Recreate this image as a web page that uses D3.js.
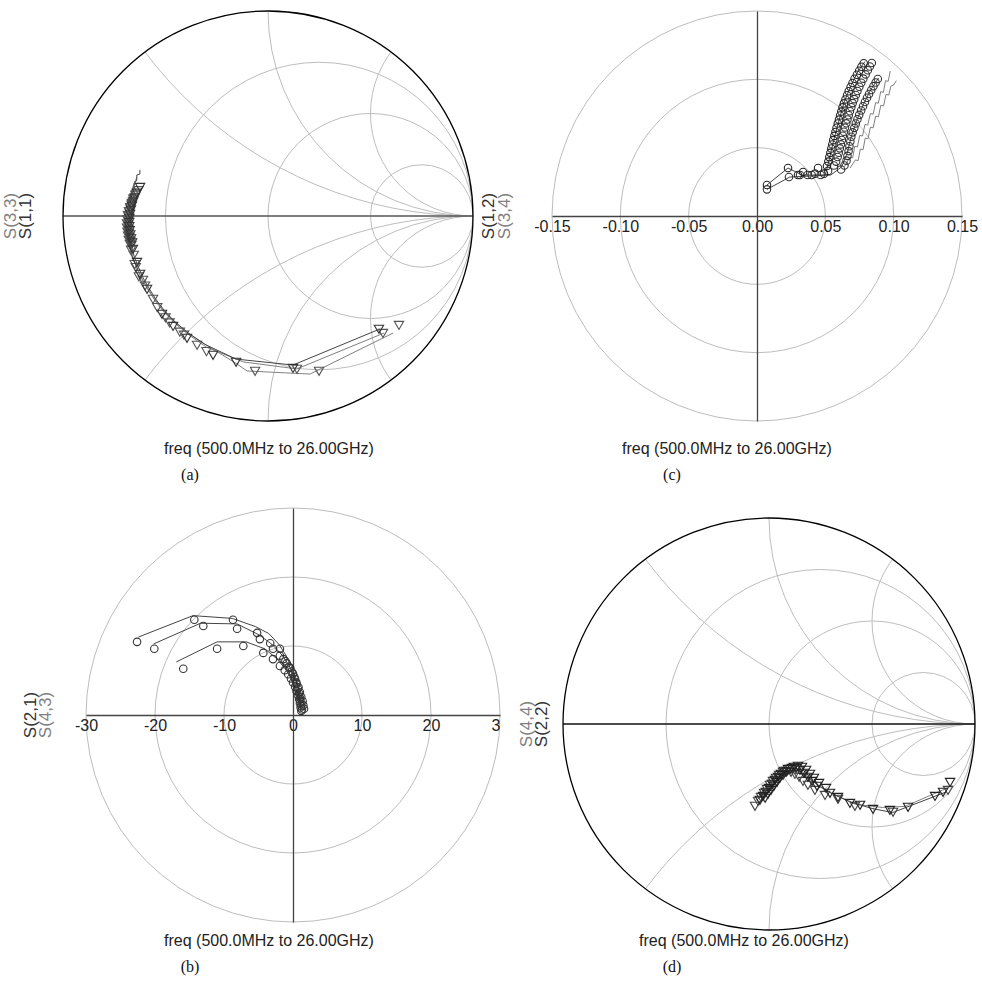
<!DOCTYPE html>
<html>
<head>
<meta charset="utf-8">
<script src="https://cdn.jsdelivr.net/npm/d3@7"></script>
<style>
  body { margin: 0; background: #fff; }
  text { font-family: "Liberation Sans", Arial, sans-serif; }
</style>
</head>
<body>
<svg id="chart" width="982" height="989"></svg>
<script>
// ---- grid values ----
const smithR = [1 / 3, 1, 3];
const smithX = [0.5, 1, 2];
const ticksC = [-0.15, -0.10, -0.05, 0.00, 0.05, 0.10, 0.15];
const ringsC = [0.05, 0.10, 0.15];
const ticksB = [-30, -20, -10, 0, 10, 20, 30];
const ringsB = [10, 20, 30];
const freqLabel = "freq (500.0MHz to 26.00GHz)";

// ---- (a) S(1,1) / S(3,3), reflection coefficient [re, im] ----
const aSim11 = [[-0.625,0.225],[-0.625,0.205],[-0.640,0.200],[-0.640,0.175],[-0.652,0.160],[-0.655,0.130],[-0.665,0.105],[-0.670,0.070],[-0.676,0.030],[-0.680,-0.010],[-0.680,-0.055],[-0.676,-0.100],[-0.666,-0.150],[-0.652,-0.200],[-0.632,-0.250],[-0.610,-0.300],[-0.582,-0.350],[-0.548,-0.405],[-0.505,-0.462],[-0.452,-0.518],[-0.388,-0.572],[-0.310,-0.625],[-0.156,-0.698],[0.122,-0.727],[0.546,-0.551]];
const aSim33 = [[-0.640,0.190],[-0.648,0.165],[-0.660,0.135],[-0.668,0.100],[-0.675,0.060],[-0.682,0.020],[-0.686,-0.020],[-0.686,-0.065],[-0.682,-0.110],[-0.672,-0.160],[-0.657,-0.210],[-0.637,-0.260],[-0.614,-0.310],[-0.585,-0.360],[-0.550,-0.415],[-0.506,-0.470],[-0.452,-0.525],[-0.386,-0.580],[-0.300,-0.640],[-0.120,-0.712],[0.141,-0.746],[0.566,-0.571]];
const aSim33b = [[-0.650,0.170],[-0.662,0.130],[-0.672,0.090],[-0.680,0.045],[-0.686,0.000],[-0.688,-0.045],[-0.685,-0.095],[-0.676,-0.145],[-0.662,-0.195],[-0.643,-0.245],[-0.620,-0.295],[-0.592,-0.345],[-0.557,-0.400],[-0.512,-0.458],[-0.456,-0.515],[-0.390,-0.570],[-0.300,-0.630],[-0.151,-0.722],[-0.102,-0.756],[0.205,-0.771],[0.610,-0.571]];
const aMeas11 = [[-0.624,0.146],[-0.640,0.118],[-0.650,0.095],[-0.658,0.075],[-0.664,0.055],[-0.669,0.035],[-0.673,0.015],[-0.676,-0.005],[-0.677,-0.025],[-0.677,-0.045],[-0.675,-0.065],[-0.672,-0.085],[-0.668,-0.105],[-0.663,-0.125],[-0.659,-0.156],[-0.639,-0.220],[-0.624,-0.278],[-0.590,-0.351],[-0.517,-0.473],[-0.463,-0.532],[-0.395,-0.590],[-0.268,-0.673],[-0.156,-0.707],[0.122,-0.737],[0.541,-0.546]];
const aMeas33 = [[-0.632,0.130],[-0.646,0.105],[-0.656,0.085],[-0.664,0.062],[-0.670,0.042],[-0.675,0.022],[-0.679,0.002],[-0.681,-0.018],[-0.682,-0.038],[-0.681,-0.058],[-0.679,-0.078],[-0.676,-0.098],[-0.672,-0.118],[-0.667,-0.138],[-0.655,-0.185],[-0.645,-0.245],[-0.610,-0.307],[-0.561,-0.400],[-0.500,-0.490],[-0.430,-0.560],[-0.346,-0.624],[-0.063,-0.751],[0.141,-0.741],[0.561,-0.566]];
const aMeas33b = [[-0.645,0.110],[-0.655,0.090],[-0.664,0.068],[-0.672,0.048],[-0.678,0.028],[-0.683,0.008],[-0.686,-0.012],[-0.688,-0.032],[-0.688,-0.052],[-0.686,-0.072],[-0.683,-0.092],[-0.679,-0.112],[-0.674,-0.132],[-0.668,-0.160],[-0.650,-0.230],[-0.630,-0.290],[-0.600,-0.335],[-0.540,-0.440],[-0.480,-0.515],[-0.410,-0.575],[-0.300,-0.655],[0.249,-0.751],[0.639,-0.527]];

// ---- (c) S(1,2) / S(3,4), linear [re, im] ----
const cSim12 = [[0.0073,0.0227],[0.0227,0.0351],[0.0330,0.0300],[0.0500,0.0300],[0.0530,0.0420],[0.0560,0.0550],[0.0600,0.0700],[0.0640,0.0840],[0.0690,0.0960],[0.0740,0.1060],[0.0790,0.1130]];
const cSim34 = [[0.0073,0.0195],[0.0240,0.0285],[0.0540,0.0300],[0.0620,0.0360],[0.0660,0.0460],[0.0690,0.0580],[0.0730,0.0700],[0.0780,0.0820],[0.0830,0.0920],[0.0890,0.1010]];
const cSim34b = [[0.0640,0.0360],[0.0680,0.0430],[0.0700,0.0425],[0.0715,0.0510],[0.0735,0.0505],[0.0752,0.0590],[0.0772,0.0585],[0.0790,0.0670],[0.0810,0.0665],[0.0830,0.0750],[0.0850,0.0745],[0.0868,0.0830],[0.0888,0.0825],[0.0905,0.0910],[0.0925,0.0905],[0.0940,0.0990],[0.0960,0.0985],[0.0975,0.1060]];
const cSim34c = [[0.0680,0.0350],[0.0720,0.0410],[0.0740,0.0405],[0.0756,0.0490],[0.0776,0.0485],[0.0792,0.0570],[0.0812,0.0565],[0.0830,0.0650],[0.0850,0.0645],[0.0868,0.0730],[0.0888,0.0725],[0.0906,0.0810],[0.0926,0.0805],[0.0944,0.0890],[0.0964,0.0885],[0.0980,0.0950],[0.1000,0.0960],[0.1020,0.0990]];
const cMeas12 = [[0.0073,0.0227],[0.0227,0.0351],[0.0300,0.0300],[0.0337,0.0322],[0.0400,0.0300],[0.0447,0.0351],[0.0490,0.0310],[0.0512,0.0366],[0.0522,0.0398],[0.0529,0.0431],[0.0537,0.0462],[0.0544,0.0494],[0.0551,0.0523],[0.0558,0.0555],[0.0566,0.0586],[0.0574,0.0615],[0.0582,0.0646],[0.0591,0.0677],[0.0600,0.0705],[0.0608,0.0735],[0.0617,0.0764],[0.0626,0.0795],[0.0636,0.0824],[0.0647,0.0853],[0.0659,0.0884],[0.0671,0.0913],[0.0685,0.0944],[0.0699,0.0973],[0.0714,0.1004],[0.0731,0.1034],[0.0748,0.1063],[0.0764,0.1092],[0.0781,0.1118]];
const cMeas34 = [[0.0073,0.0195],[0.0234,0.0285],[0.0315,0.0300],[0.0370,0.0300],[0.0425,0.0310],[0.0466,0.0300],[0.0520,0.0330],[0.0563,0.0370],[0.0579,0.0398],[0.0590,0.0432],[0.0598,0.0463],[0.0606,0.0495],[0.0614,0.0524],[0.0621,0.0556],[0.0628,0.0587],[0.0636,0.0616],[0.0644,0.0647],[0.0653,0.0678],[0.0662,0.0706],[0.0671,0.0737],[0.0680,0.0766],[0.0690,0.0796],[0.0700,0.0826],[0.0711,0.0855],[0.0723,0.0885],[0.0735,0.0915],[0.0749,0.0946],[0.0763,0.0975],[0.0778,0.1005],[0.0795,0.1036],[0.0811,0.1066],[0.0826,0.1094],[0.0840,0.1120]];
const cMeas34b = [[0.0615,0.0340],[0.0640,0.0370],[0.0655,0.0405],[0.0662,0.0440],[0.0670,0.0475],[0.0676,0.0510],[0.0683,0.0545],[0.0690,0.0580],[0.0700,0.0612],[0.0712,0.0645],[0.0723,0.0677],[0.0735,0.0708],[0.0748,0.0740],[0.0762,0.0772],[0.0776,0.0803],[0.0790,0.0834],[0.0805,0.0865],[0.0820,0.0893],[0.0836,0.0922],[0.0852,0.0950],[0.0868,0.0977],[0.0884,0.1003]];

// ---- (b) S(2,1) / S(4,3), linear [re, im] ----
const bSim21 = [[-22.4,11.3],[-14.5,14.4],[-8.8,14.0],[-5.4,12.8],[-3.5,11.8],[-2.0,10.2],[-1.0,8.6],[-0.2,7.0],[0.4,5.4],[0.8,3.8],[1.0,2.2],[1.1,0.8]];
const bSim43 = [[-20.2,10.3],[-13.4,13.3],[-8.1,13.2],[-4.9,11.6],[-3.0,10.2],[-1.6,8.7],[-0.6,7.2],[0.2,5.6],[0.7,4.0],[1.0,2.4],[1.2,0.9]];
const bSim43b = [[-16.9,7.7],[-11.0,10.6],[-6.8,10.6],[-4.1,9.6],[-2.4,8.2],[-1.2,6.8],[-0.3,5.4],[0.4,4.0],[0.8,2.6],[1.0,1.2]];
const bMeas21 = [[-22.6,10.6],[-14.3,13.8],[-8.7,13.8],[-5.2,11.9],[-3.3,10.4],[-1.9,9.6],[-1.4,8.1],[-0.9,7.5],[-0.4,6.8],[0.0,6.0],[0.3,5.2],[0.5,4.5],[0.7,3.8],[0.9,3.1],[1.0,2.5],[1.1,1.9],[1.2,1.3],[1.3,0.8]];
const bMeas43 = [[-20.1,9.6],[-13.0,12.9],[-8.1,12.5],[-4.8,11.0],[-2.9,9.6],[-1.9,8.6],[-1.1,7.8],[-0.6,7.0],[-0.2,6.3],[0.2,5.5],[0.5,4.7],[0.8,4.0],[1.0,3.3],[1.2,2.6],[1.4,2.0],[1.5,1.4],[1.6,0.9]];
const bMeas43b = [[-15.9,6.7],[-11.0,9.6],[-7.2,10.0],[-4.3,9.0],[-2.9,8.1],[-1.9,7.1],[-1.2,6.5],[-0.7,5.9],[-0.3,5.3],[0.0,4.7],[0.3,4.1],[0.5,3.5],[0.7,2.9],[0.9,2.3],[1.0,1.7],[1.1,1.1],[1.2,0.6]];

// ---- (d) S(4,4) / S(2,2), reflection coefficient [re, im] ----
const dSim22 = [[-0.06,-0.37],[-0.02,-0.33],[0.02,-0.29],[0.06,-0.25],[0.10,-0.225],[0.14,-0.225],[0.18,-0.25],[0.24,-0.30],[0.30,-0.335],[0.40,-0.38],[0.50,-0.41],[0.60,-0.43],[0.86,-0.33]];
const dSim44 = [[-0.05,-0.38],[-0.01,-0.34],[0.03,-0.30],[0.07,-0.26],[0.11,-0.235],[0.15,-0.24],[0.20,-0.27],[0.26,-0.31],[0.33,-0.35],[0.42,-0.39],[0.55,-0.405],[0.66,-0.40],[0.89,-0.30]];
const dMeas22 = [[-0.044,-0.364],[-0.029,-0.345],[-0.015,-0.325],[0.000,-0.306],[0.015,-0.286],[0.029,-0.267],[0.044,-0.252],[0.058,-0.238],[0.073,-0.223],[0.092,-0.214],[0.112,-0.209],[0.131,-0.209],[0.150,-0.218],[0.170,-0.233],[0.189,-0.252],[0.209,-0.272],[0.233,-0.296],[0.296,-0.330],[0.393,-0.379],[0.505,-0.408],[0.675,-0.398],[0.845,-0.325]];
const dMeas44 = [[-0.068,-0.393],[-0.053,-0.369],[-0.039,-0.350],[-0.024,-0.330],[-0.010,-0.311],[0.005,-0.291],[0.019,-0.272],[0.034,-0.257],[0.049,-0.243],[0.068,-0.228],[0.087,-0.223],[0.107,-0.228],[0.126,-0.238],[0.146,-0.252],[0.165,-0.272],[0.189,-0.291],[0.223,-0.316],[0.272,-0.340],[0.335,-0.359],[0.417,-0.393],[0.602,-0.422],[0.869,-0.316]];
const dMeas22b = [[-0.019,-0.354],[-0.005,-0.335],[0.010,-0.316],[0.024,-0.296],[0.039,-0.277],[0.053,-0.257],[0.068,-0.243],[0.083,-0.228],[0.102,-0.214],[0.121,-0.204],[0.141,-0.199],[0.160,-0.204],[0.180,-0.218],[0.199,-0.238],[0.218,-0.257],[0.243,-0.282],[0.277,-0.306],[0.335,-0.350],[0.442,-0.388],[0.587,-0.413],[0.806,-0.345],[0.879,-0.277]];

const DARK = "#333", GRAY = "#808080", GRID = "#bdbdbd";
const svg = d3.select("#chart");
const fmtLocale = d3.formatLocale({decimal: ".", thousands: ",", grouping: [3], currency: ["$", ""], minus: "-"});

function addTraces(g, x, y, cfg) {
  const line = d3.line().x(d => x(d[0])).y(d => y(d[1]));
  cfg.lines.forEach(l => {
    g.append("path").attr("d", line(l.data)).attr("fill", "none")
        .attr("stroke", l.color).attr("stroke-width", 1);
  });
  const tri = d3.symbol().type(d3.symbolTriangle).size(38);
  const circ = d3.symbol().type(d3.symbolCircle).size(44);
  cfg.marks.forEach(m => {
    const sel = g.append("g").selectAll("path").data(m.data).join("path");
    if (cfg.marker === "tri") {
      sel.attr("d", tri)
          .attr("transform", d => "translate(" + x(d[0]) + "," + y(d[1]) + ") rotate(180)");
    } else {
      sel.attr("d", circ)
          .attr("transform", d => "translate(" + x(d[0]) + "," + y(d[1]) + ")");
    }
    sel.attr("fill", "none").attr("stroke", m.color).attr("stroke-width", 1.1);
  });
}

function addLabels(g, cfg) {
  cfg.names.forEach(n => {
    g.append("text")
        .attr("transform", "translate(" + n.x + "," + cfg.cy + ") rotate(-90)")
        .attr("text-anchor", "middle")
        .attr("font-size", 17)
        .attr("fill", n.color)
        .text(n.text);
  });
  g.append("text").attr("x", cfg.freqX).attr("y", cfg.freqY)
      .attr("text-anchor", "middle").attr("font-size", 16).attr("fill", "#222").text(freqLabel);
  g.append("text").attr("x", cfg.capX).attr("y", cfg.freqY + 26)
      .attr("text-anchor", "middle").attr("font-size", 16).attr("fill", "#111")
      .style("font-family", "'Liberation Serif', 'Times New Roman', serif").text(cfg.caption);
}

function smithPanel(cfg) {
  const x = d3.scaleLinear().domain([-1, 1]).range([cfg.cx - cfg.R, cfg.cx + cfg.R]);
  const y = d3.scaleLinear().domain([-1, 1]).range([cfg.cy + cfg.R, cfg.cy - cfg.R]);
  const g = svg.append("g");
  g.append("clipPath").attr("id", "clip-" + cfg.id)
      .append("circle").attr("cx", x(0)).attr("cy", y(0)).attr("r", cfg.R);
  const grid = g.append("g").attr("clip-path", "url(#clip-" + cfg.id + ")")
      .attr("fill", "none").attr("stroke", GRID).attr("stroke-width", 1);
  smithR.forEach(r => grid.append("circle")
      .attr("cx", x(r / (1 + r))).attr("cy", y(0)).attr("r", x(1 / (1 + r)) - x(0)));
  smithX.forEach(v => [v, -v].forEach(s => grid.append("circle")
      .attr("cx", x(1)).attr("cy", y(1 / s)).attr("r", x(1 / v) - x(0))));
  g.append("line").attr("x1", x(-1)).attr("x2", x(1)).attr("y1", y(0)).attr("y2", y(0))
      .attr("stroke", cfg.axisColor).attr("stroke-width", 1.3);
  g.append("circle").attr("cx", x(0)).attr("cy", y(0)).attr("r", cfg.R)
      .attr("fill", "none").attr("stroke", "#000").attr("stroke-width", 1.3);
  addTraces(g, x, y, cfg);
  addLabels(g, cfg);
}

function polarPanel(cfg) {
  const x = d3.scaleLinear().domain([-cfg.max, cfg.max]).range([cfg.cx - cfg.R, cfg.cx + cfg.R]);
  const y = d3.scaleLinear().domain([-cfg.max, cfg.max]).range([cfg.cy + cfg.R, cfg.cy - cfg.R]);
  const g = svg.append("g");
  if (cfg.clipRight) {
    g.append("clipPath").attr("id", "clip-" + cfg.id).append("rect")
        .attr("x", 0).attr("y", 0).attr("width", cfg.clipRight).attr("height", 989);
    g.attr("clip-path", "url(#clip-" + cfg.id + ")");
  }
  g.append("g").selectAll("circle").data(cfg.rings).join("circle")
      .attr("cx", x(0)).attr("cy", y(0)).attr("r", d => x(d) - x(0))
      .attr("fill", "none").attr("stroke", GRID).attr("stroke-width", 1);
  const ax = g.append("g").attr("transform", "translate(0," + y(0) + ")")
      .call(d3.axisBottom(x).tickValues(cfg.ticks).tickSize(0).tickPadding(5)
          .tickFormat(fmtLocale.format(cfg.fmt)));
  ax.select(".domain").attr("stroke", "#444").attr("stroke-width", 1.3);
  ax.selectAll("text").attr("font-size", 16).attr("fill", "#222")
      .style("font-family", "'Liberation Sans', Arial, sans-serif");
  const ay = g.append("g").attr("transform", "translate(" + x(0) + ",0)")
      .call(d3.axisLeft(y).tickValues([]).tickSize(0));
  ay.select(".domain").attr("stroke", "#444").attr("stroke-width", 1.3);
  addTraces(g, x, y, cfg);
  addLabels(g, cfg);
}

smithPanel({
  id: "a", cx: 268, cy: 216, R: 205, axisColor: "#555", marker: "tri",
  lines: [{data: aSim33b, color: GRAY}, {data: aSim33, color: GRAY}, {data: aSim11, color: "#444"}],
  marks: [{data: aMeas33b, color: "#555"}, {data: aMeas33, color: "#555"}, {data: aMeas11, color: "#333"}],
  names: [{text: "S(3,3)", x: 16, color: GRAY}, {text: "S(1,1)", x: 31, color: DARK}],
  freqX: 269, freqY: 454, capX: 190, caption: "(a)"
});

polarPanel({
  id: "c", cx: 757, cy: 216, R: 205, max: 0.15, rings: ringsC, ticks: ticksC, fmt: ".2f", marker: "circ",
  lines: [{data: cSim34b, color: GRAY}, {data: cSim34c, color: GRAY}, {data: cSim34, color: "#444"}, {data: cSim12, color: "#444"}],
  marks: [{data: cMeas34b, color: "#333"}, {data: cMeas34, color: "#333"}, {data: cMeas12, color: "#222"}],
  names: [{text: "S(1,2)", x: 494, color: DARK}, {text: "S(3,4)", x: 510, color: GRAY}],
  freqX: 727, freqY: 454, capX: 672, caption: "(c)"
});

polarPanel({
  id: "b", cx: 293, cy: 715, R: 207, max: 30, rings: ringsB, ticks: ticksB, fmt: "d", marker: "circ",
  clipRight: 501,
  lines: [{data: bSim21, color: "#444"}, {data: bSim43, color: "#444"}, {data: bSim43b, color: "#444"}],
  marks: [{data: bMeas21, color: "#333"}, {data: bMeas43, color: "#333"}, {data: bMeas43b, color: "#333"}],
  names: [{text: "S(2,1)", x: 36, color: DARK}, {text: "S(4,3)", x: 51, color: GRAY}],
  freqX: 269, freqY: 946, capX: 190, caption: "(b)"
});

smithPanel({
  id: "d", cx: 769, cy: 724, R: 206, axisColor: "#111", marker: "tri",
  lines: [{data: dSim44, color: GRAY}, {data: dSim22, color: "#444"}],
  marks: [{data: dMeas44, color: "#444"}, {data: dMeas22b, color: "#222"}, {data: dMeas22, color: "#222"}],
  names: [{text: "S(4,4)", x: 532, color: GRAY}, {text: "S(2,2)", x: 547, color: DARK}],
  freqX: 744, freqY: 946, capX: 672, caption: "(d)"
});
</script>
</body>
</html>
